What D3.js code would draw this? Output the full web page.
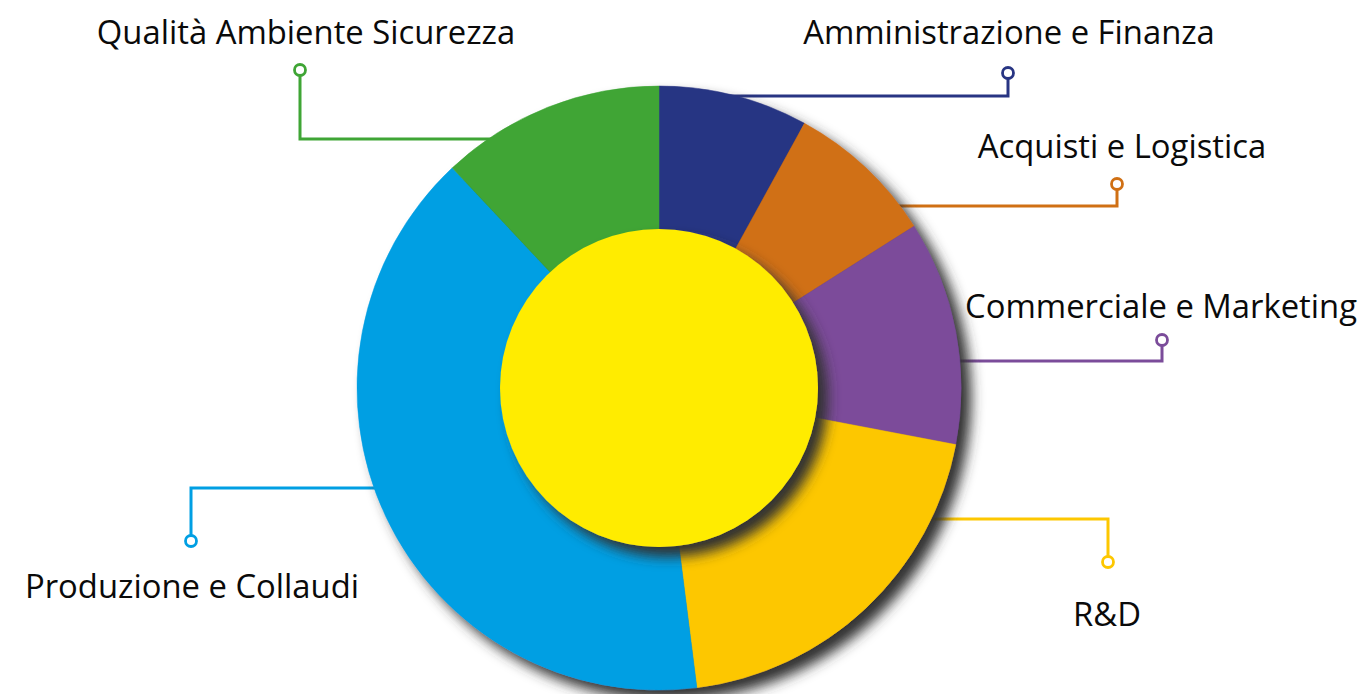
<!DOCTYPE html>
<html>
<head>
<meta charset="utf-8">
<script src="https://cdn.jsdelivr.net/npm/d3@7"></script>
<style>
  html, body { margin: 0; padding: 0; background: #fff; }
  svg { display: block; }
</style>
</head>
<body>
<div id="chart"></div>
<script>
// Ripartizione del personale per area (donut con cerchio centrale)

const categories = ["Amministrazione e Finanza", "Acquisti e Logistica", "Commerciale e Marketing",
  "R&D", "Produzione e Collaudi", "Qualità Ambiente Sicurezza"];
const values = [8, 8, 12, 20, 40, 12];
const colors = ["#283583", "#d07014", "#7b4c9a", "#fdc700", "#009fe3", "#3fa535"];

// label placement: dot position, height of the horizontal leader, label position
const labelLayout = [
  { dot: [1008, 73],  lineY: 96,  text: [1009, 44] },
  { dot: [1117, 184], lineY: 206, text: [1122, 158] },
  { dot: [1162, 340], lineY: 361, text: [1161, 318] },
  { dot: [1108, 562], lineY: 519, text: [1107, 626] },
  { dot: [191, 541],  lineY: 488, text: [192, 598] },
  { dot: [300, 70],   lineY: 139, text: [306, 44] }
];

const width = 1367;
const height = 694;
const cx = 659, cy = 388;
const outerR = 302;
const innerR = 159;

const svg = d3.select("#chart")
  .append("svg")
  .attr("width", width)
  .attr("height", height)
  .style("font-family", "'Open Sans', sans-serif");

// drop shadow
const defs = svg.append("defs");
const shadow = defs.append("filter")
  .attr("id", "shadow")
  .attr("x", "-20%").attr("y", "-20%")
  .attr("width", "140%").attr("height", "140%");
shadow.append("feDropShadow")
  .attr("dx", 10).attr("dy", 10)
  .attr("stdDeviation", 6.5)
  .attr("flood-color", "#333")
  .attr("flood-opacity", 1);

const data = categories.map((name, i) => ({ name, value: values[i], color: colors[i], layout: labelLayout[i] }));

// --- LEADER LINES (drawn under the donut) ---
const leaders = svg.append("g");
data.forEach(d => {
  const L = d.layout;
  leaders.append("path")
    .attr("d", `M${cx},${L.lineY}H${L.dot[0]}V${L.dot[1]}`)
    .attr("fill", "none")
    .attr("stroke", d.color)
    .attr("stroke-width", 3);
  leaders.append("circle")
    .attr("cx", L.dot[0])
    .attr("cy", L.dot[1])
    .attr("r", 5.5)
    .attr("fill", "#fff")
    .attr("stroke", d.color)
    .attr("stroke-width", 2.8);
});

// --- DONUT ---
const pie = d3.pie()
  .value(d => d.value)
  .sort(null);

const arc = d3.arc()
  .innerRadius(0)
  .outerRadius(outerR);

const g = svg.append("g")
  .attr("transform", `translate(${cx},${cy})`);

g.append("g")
  .attr("filter", "url(#shadow)")
  .selectAll("path")
  .data(pie(data))
  .join("path")
  .attr("d", arc)
  .attr("fill", d => d.data.color)
  .attr("stroke", d => d.data.color)
  .attr("stroke-width", 0.5);

g.append("circle")
  .attr("r", innerR)
  .attr("fill", "#ffec00")
  .attr("filter", "url(#shadow)");

// --- LABELS ---
svg.append("g")
  .selectAll("text")
  .data(data)
  .join("text")
  .attr("x", d => d.layout.text[0])
  .attr("y", d => d.layout.text[1])
  .attr("text-anchor", "middle")
  .style("font-size", "32.8px")
  .style("fill", "#0a0a0a")
  .text(d => d.name);
</script>
</body>
</html>
